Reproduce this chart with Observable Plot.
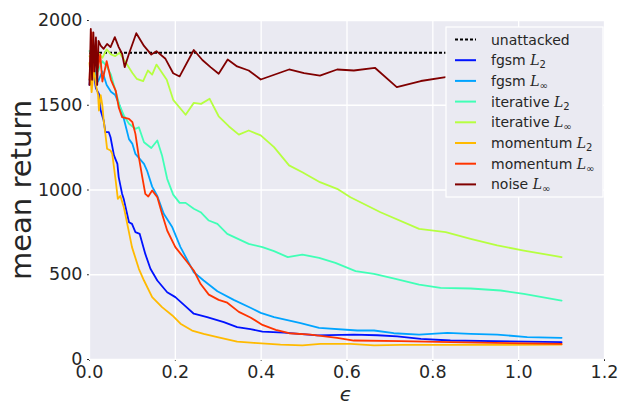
<!DOCTYPE html>
<html><head><meta charset="utf-8">
<script src="https://cdn.jsdelivr.net/npm/d3@7"></script>
<script src="https://cdn.jsdelivr.net/npm/@observablehq/plot@0.6"></script>
<style>body{margin:0;background:#fff} #chart{width:627px;height:406px}</style>
</head><body><div id="chart"></div>
<script>
const xTicks = [0, 0.2, 0.4, 0.6, 0.8, 1.0, 1.2];
const yTicks = [0, 500, 1000, 1500, 2000];
const unattackedLevel = 1810;
const unattackedRange = [0, 1.1];

const fgsmL2 = [[0,1620],[0.005,1780],[0.01,1680],[0.015,1600],[0.022,1567],[0.026,1469],[0.033,1410],[0.037,1341],[0.045,1341],[0.049,1311],[0.057,1204],[0.065,1154],[0.068,1076],[0.076,977],[0.08,945],[0.092,810],[0.099,800],[0.107,751],[0.117,741],[0.13,623],[0.142,535],[0.158,466],[0.181,397],[0.2,368],[0.224,313],[0.243,270],[0.274,250],[0.313,220],[0.344,191],[0.375,179],[0.403,165],[0.453,159],[0.531,142],[0.616,147],[0.671,143],[0.717,136],[0.772,122],[0.841,112],[1.1,102]];
const fgsmLinf = [[0,1650],[0.01,1720],[0.02,1640],[0.03,1700],[0.04,1620],[0.05,1580],[0.06,1560],[0.07,1500],[0.08,1420],[0.092,1300],[0.1,1272],[0.107,1213],[0.115,1190],[0.127,1154],[0.134,1115],[0.146,1020],[0.158,965],[0.173,860],[0.193,780],[0.212,663],[0.243,515],[0.266,466],[0.298,403],[0.336,352],[0.375,305],[0.399,275],[0.43,250],[0.492,214],[0.535,187],[0.624,171],[0.663,171],[0.709,155],[0.768,147],[0.834,157],[0.888,151],[0.95,147],[1.02,132],[1.1,128]];
const iterativeL2 = [[0,1820],[0.01,1760],[0.02,1700],[0.03,1760],[0.04,1730],[0.05,1680],[0.06,1590],[0.07,1500],[0.08,1440],[0.092,1391],[0.107,1361],[0.115,1370],[0.127,1282],[0.144,1248],[0.158,1292],[0.169,1204],[0.181,1066],[0.195,973],[0.21,924],[0.224,924],[0.243,889],[0.259,869],[0.278,820],[0.298,800],[0.321,741],[0.371,682],[0.403,663],[0.43,639],[0.462,604],[0.496,619],[0.535,600],[0.573,570],[0.62,521],[0.663,505],[0.713,476],[0.768,442],[0.818,423],[0.888,419],[0.958,407],[1.012,387],[1.1,348]];
const iterativeLinf = [[0,1790],[0.01,1760],[0.02,1810],[0.03,1780],[0.04,1830],[0.05,1800],[0.06,1790],[0.07,1810],[0.08,1770],[0.09,1730],[0.1,1690],[0.11,1656],[0.125,1642],[0.136,1705],[0.146,1681],[0.156,1740],[0.18,1650],[0.195,1532],[0.224,1444],[0.243,1514],[0.26,1508],[0.28,1538],[0.301,1435],[0.325,1375],[0.348,1327],[0.371,1351],[0.399,1322],[0.43,1253],[0.465,1145],[0.496,1105],[0.537,1046],[0.577,1007],[0.608,957],[0.678,869],[0.768,771],[0.83,751],[0.888,712],[0.95,673],[1.012,643],[1.1,604]];
const momentumL2 = [[0,1750],[0.005,1577],[0.01,1720],[0.015,1620],[0.02,1560],[0.022,1469],[0.026,1560],[0.03,1500],[0.033,1410],[0.037,1331],[0.041,1243],[0.049,1233],[0.053,1213],[0.061,1056],[0.066,948],[0.072,965],[0.08,899],[0.088,800],[0.099,663],[0.115,535],[0.127,466],[0.146,368],[0.169,309],[0.193,260],[0.212,211],[0.239,171],[0.266,151],[0.298,132],[0.344,105],[0.383,98],[0.445,88],[0.496,83],[0.538,92],[0.608,92],[0.663,83],[0.725,86],[0.841,86],[1.1,88]];
const momentumLinf = [[0,1650],[0.005,1930],[0.01,1700],[0.015,1880],[0.02,1720],[0.025,1800],[0.03,1640],[0.04,1760],[0.05,1650],[0.055,1620],[0.061,1587],[0.068,1489],[0.076,1430],[0.092,1420],[0.1,1400],[0.107,1331],[0.115,1194],[0.123,1076],[0.13,977],[0.137,962],[0.146,997],[0.158,958],[0.169,860],[0.181,761],[0.2,663],[0.228,574],[0.243,525],[0.259,445],[0.278,383],[0.301,352],[0.321,335],[0.348,281],[0.375,248],[0.403,204],[0.434,175],[0.465,155],[0.515,147],[0.577,128],[0.616,112],[0.725,108],[0.841,102],[1.1,92]];
const noiseLinf = [[0,1620],[0.003,1950],[0.006,1650],[0.009,1930],[0.012,1700],[0.015,1900],[0.018,1620],[0.021,1880],[0.026,1852],[0.033,1833],[0.041,1862],[0.049,1843],[0.059,1902],[0.068,1843],[0.076,1804],[0.082,1725],[0.092,1804],[0.109,1925],[0.127,1850],[0.144,1799],[0.156,1819],[0.177,1774],[0.195,1689],[0.21,1670],[0.243,1826],[0.263,1767],[0.282,1725],[0.301,1686],[0.322,1770],[0.344,1729],[0.371,1705],[0.399,1652],[0.465,1711],[0.5,1689],[0.537,1675],[0.577,1711],[0.616,1705],[0.665,1721],[0.716,1607],[0.772,1643],[0.83,1666],[0.9,1690],[0.96,1660],[1.03,1700],[1.1,1680]];

const seriesData = [fgsmL2, fgsmLinf, iterativeL2, iterativeLinf, momentumL2, momentumLinf, noiseLinf];
const seriesNames = ["fgsm", "fgsm", "iterative", "iterative", "momentum", "momentum", "noise"];
const seriesNorms = ["2", "∞", "2", "∞", "2", "∞", "∞"];
const seriesColors = ["#0012ff", "#00a4ff", "#40ffb6", "#b6ff40", "#ffba00", "#ff3400", "#800000"];
const unattackedLabel = "unattacked";
const xLabel = "ϵ";
const yLabel = "mean return";

const chart = Plot.plot({
  width: 627, height: 406,
  marginLeft: 89, marginRight: 23, marginTop: 20, marginBottom: 47,
  style: {fontFamily: "DejaVu Sans", fontSize: "17.5px", color: "#262626", background: "white", overflow: "visible"},
  x: {domain: [0, 1.2], ticks: xTicks, tickFormat: d3.format(".1f"), label: null, tickSize: 2, tickPadding: 4},
  y: {domain: [0, 2000], ticks: yTicks, tickFormat: d3.format("d"), label: null, tickSize: 2, tickPadding: 5},
  marks: [
    Plot.frame({fill: "#EAEAF2", stroke: "none"}),
    Plot.ruleX(xTicks, {stroke: "white", strokeWidth: 1.3}),
    Plot.ruleY(yTicks, {stroke: "white", strokeWidth: 1.3}),
    Plot.ruleY([unattackedLevel], {x1: unattackedRange[0], x2: unattackedRange[1], stroke: "black", strokeWidth: 2, strokeDasharray: "3,2"}),
    ...seriesData.map((d, i) => Plot.line(d, {x: d => d[0], y: d => d[1], stroke: seriesColors[i], strokeWidth: 1.8}))
  ]
});
document.getElementById("chart").appendChild(chart);

const svg = d3.select(chart);
svg.append("text")
  .attr("transform", "translate(21,190) rotate(-90)")
  .attr("text-anchor", "middle").attr("dominant-baseline", "central")
  .style("font-size", "29px").style("font-family", "DejaVu Sans").attr("fill", "#262626")
  .text(yLabel);
svg.append("text")
  .attr("x", 346).attr("y", 394)
  .attr("text-anchor", "middle").attr("dominant-baseline", "central")
  .style("font-size", "20px").style("font-family", "DejaVu Sans").style("font-style", "italic").attr("fill", "#262626")
  .text(xLabel);

const lg = svg.append("g").attr("transform", "translate(446,27)");
lg.append("rect").attr("width", 157).attr("height", 170).attr("fill", "#EAEAF2").attr("stroke", "white").attr("stroke-width", 1.2);
const rowH = 20.7, y0 = 12.5;
const entries = [{name: unattackedLabel, norm: null, color: "black", dash: "3,2"}]
  .concat(seriesNames.map((n, i) => ({name: n, norm: seriesNorms[i], color: seriesColors[i], dash: null})));
entries.forEach((e, i) => {
  const y = y0 + i * rowH;
  lg.append("line").attr("x1", 9).attr("x2", 30).attr("y1", y).attr("y2", y)
    .attr("stroke", e.color).attr("stroke-width", 2).attr("stroke-dasharray", e.dash);
  const t = lg.append("text").attr("x", 45).attr("y", y + 5).attr("text-anchor", "start")
    .style("font-size", "14px").style("font-family", "DejaVu Sans").attr("fill", "#262626");
  t.append("tspan").text(e.name + (e.norm ? " " : ""));
  if (e.norm) {
    t.append("tspan").style("font-family", "DejaVu Serif").style("font-style", "italic").text("L");
    t.append("tspan").attr("dy", 3).style("font-size", "10px").text(e.norm);
  }
});
</script></body></html>
